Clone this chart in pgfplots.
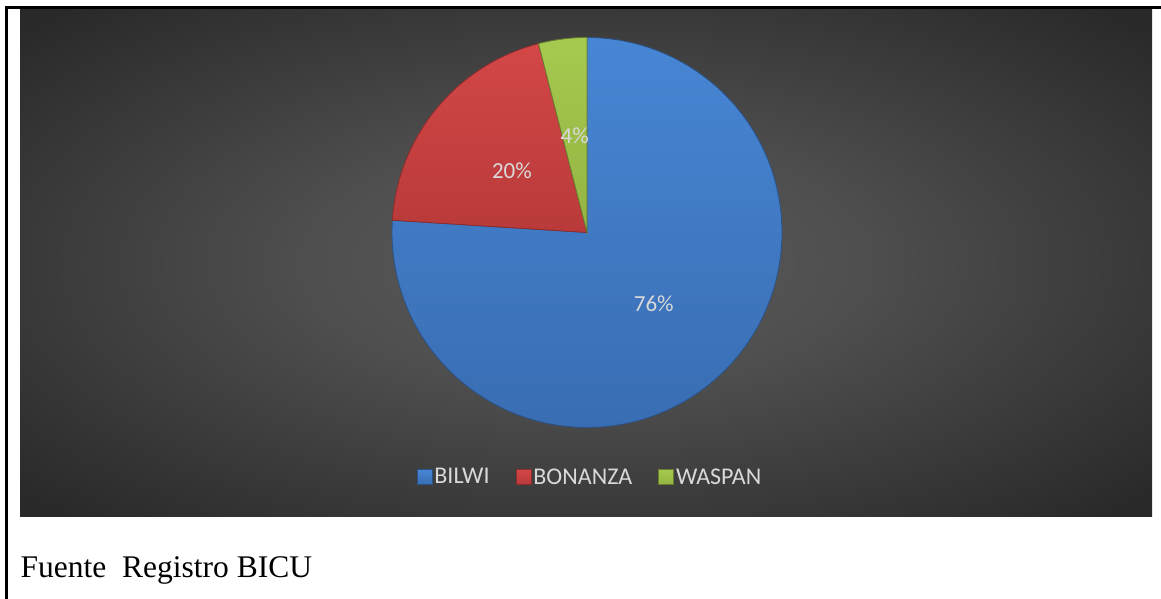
\documentclass[border=0pt]{standalone}
\usepackage{pgfplots}
\pgfplotsset{compat=1.18}
\usepackage{fontspec}
\setmainfont{Liberation Serif}
\newfontfamily\carlito{Carlito}
\definecolor{bgin}{HTML}{5A5A5A}
\definecolor{bgmid}{HTML}{4F4F4F}
\definecolor{bgout}{HTML}{292929}
\definecolor{bgcorner}{HTML}{232323}
\definecolor{cblueT}{HTML}{4786D4}
\definecolor{cblueB}{HTML}{396DB3}
\definecolor{credT}{HTML}{D34747}
\definecolor{credB}{HTML}{B93A3A}
\definecolor{cgreenT}{HTML}{A6C94F}
\definecolor{cgreenB}{HTML}{93B443}
\definecolor{lbl}{HTML}{D9D9D9}
\pgfdeclareradialshading{bgshade}{\pgfpoint{0bp}{0bp}}{color(0bp)=(bgin); color(12bp)=(bgmid); color(34bp)=(bgout); color(50bp)=(bgcorner)}
\def\vA{76}\def\vB{20}\def\vC{4}
\pgfmathsetmacro\sO{90}
\pgfmathsetmacro\sA{\sO-3.6*\vA}
\pgfmathsetmacro\sB{\sA-3.6*\vB}
\pgfmathsetmacro\sC{\sB-3.6*\vC}
\pgfmathsetmacro\mA{(\sO+\sA)/2}
\pgfmathsetmacro\mB{(\sA+\sB)/2}
\pgfmathsetmacro\mC{(\sB+\sC)/2}
\begin{document}
\begin{tikzpicture}[x=1pt,y=1pt]
\path (0,0) rectangle (1161,599);
\shade[shading=bgshade] (20,82) rectangle (1152,590);
\fill[black] (5,0) rectangle (7.5,592.5);
\fill[black] (5,589.5) rectangle (1161,592.5);
\node[anchor=base west, font=\fontsize{31.5}{36}\selectfont, inner sep=0] at (20.5,21.5) {Fuente\ \ Registro BICU};
\begin{axis}[hide axis, x=195pt, y=195pt, xmin=-1, xmax=1, ymin=-1, ymax=1,
  anchor=south west, at={(392pt,171.5pt)}, clip=false, legend columns=3,
  legend style={at={(axis cs:0.015,-1.254)}, anchor=center, draw=none, fill=none,
    text=lbl, font=\carlito\fontsize{24}{28}\selectfont,
    /tikz/every even column/.append style={column sep=24pt}},
  legend image code/.code={\fill[#1] (0pt,-7.5pt) rectangle (15pt,7.5pt);}]
\addplot[top color=cblueT, bottom color=cblueB, draw=cblueB!75!black, line width=0.8pt, domain=\sA:\sO, samples=150] ({cos(x)},{sin(x)}) -- (0,0) -- cycle;
\addlegendentry{BILWI}
\addplot[top color=credT, bottom color=credB, draw=credB!75!black, line width=0.8pt, domain=\sB:\sA, samples=60] ({cos(x)},{sin(x)}) -- (0,0) -- cycle;
\addlegendentry{BONANZA}
\addplot[top color=cgreenT, bottom color=cgreenB, draw=cgreenB!70!black, line width=0.8pt, domain=\sC:\sB, samples=20] ({cos(x)},{sin(x)}) -- (0,0) -- cycle;
\addlegendentry{WASPAN}
\node[text=lbl, font=\carlito\fontsize{23}{28}\selectfont] at (axis cs:{0.5*cos(\mA)},{0.5*sin(\mA)}) {\vA\%};
\node[text=lbl, font=\carlito\fontsize{23}{28}\selectfont] at (axis cs:{0.5*cos(\mB)},{0.5*sin(\mB)}) {\vB\%};
\node[text=lbl, font=\carlito\fontsize{23}{28}\selectfont] at (axis cs:{0.5*cos(\mC)},{0.5*sin(\mC)}) {\vC\%};
\end{axis}
\end{tikzpicture}
\end{document}
